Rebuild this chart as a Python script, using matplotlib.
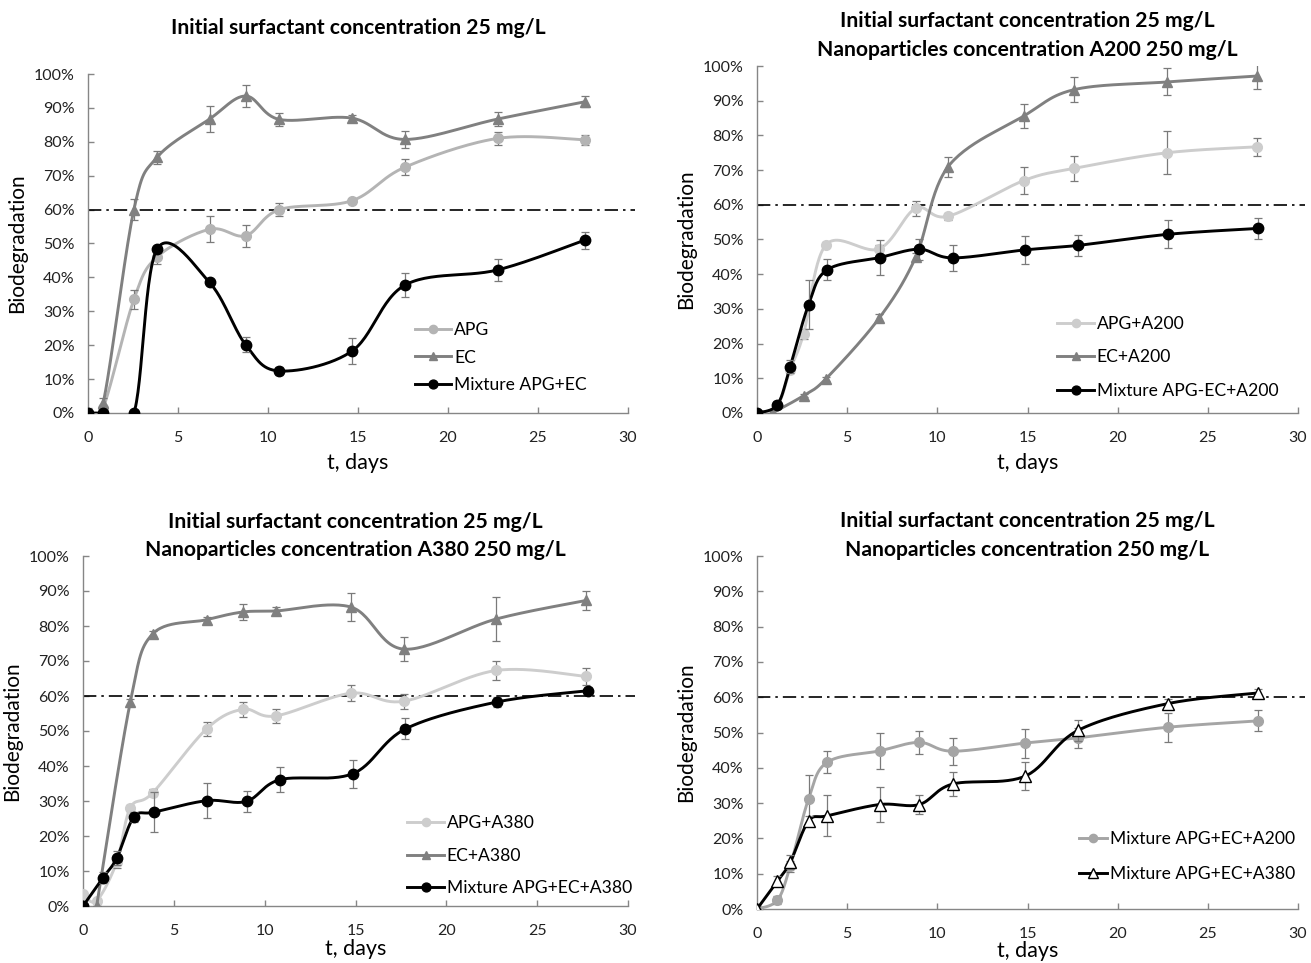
import numpy as np
import matplotlib
matplotlib.use("Agg")
import matplotlib.pyplot as plt
from matplotlib.lines import Line2D

plt.rcParams['font.family'] = ['Lato', 'DejaVu Sans']

# ---------------- data ----------------
TITLE1 = "Initial surfactant concentration 25 mg/L"
TITLE2 = "Initial surfactant concentration 25 mg/L\nNanoparticles concentration A200 250 mg/L"
TITLE3 = "Initial surfactant concentration 25 mg/L\nNanoparticles concentration A380 250 mg/L"
TITLE4 = "Initial surfactant concentration 25 mg/L\nNanoparticles concentration 250 mg/L"

# Panel 1
t1 = [0, 0.84, 2.55, 3.83, 6.75, 8.76, 10.63, 14.65, 17.6, 22.75, 27.6]
apg1 = [0, 1.5, 33.5, 46, 54.2, 52.3, 60, 62.6, 72.5, 81, 80.6]
apg1_err = [1.5, 1.0, 2.9, 2.0, 3.8, 3.2, 2.0, 0.6, 2.4, 1.9, 1.5]
ec1 = [0, 2.9, 60, 75.4, 86.7, 93.5, 86.6, 87, 80.7, 86.7, 91.8]
ec1_err = [0, 1.5, 3.0, 1.9, 3.9, 3.2, 2.0, 1.0, 2.5, 2.0, 1.6]
mix1 = [0, 0, 0, 48.3, 38.5, 20.1, 12.4, 18.2, 37.7, 42.2, 51]
mix1_err = [0, 0, 0, 1.0, 0.5, 2.2, 1.1, 3.8, 3.5, 3.2, 2.5]

# Panel 2 (A200)
tA2 = [0, 1.13, 1.84, 2.58, 3.83, 6.77, 8.8, 10.6, 14.8, 17.6, 22.75, 27.7]
apg2 = [0, 2.2, 12.5, 22.8, 48.5, 47.3, 59, 56.7, 67, 70.5, 75, 76.7]
apg2_err = [0, 0.5, 1.0, 1.5, 0.8, 1.0, 2.2, 1.0, 4.0, 3.6, 6.2, 2.6]
tE2 = [0.85, 2.58, 3.83, 6.77, 8.8, 10.6, 14.8, 17.6, 22.75, 27.7]
ec2 = [0, 5, 9.9, 27.3, 44.9, 71, 85.6, 93.2, 95.4, 97.1]
ec2_err = [0, 0.5, 0.6, 1.1, 1.2, 2.9, 3.4, 3.7, 3.9, 3.7]
tM2 = [0, 1.13, 1.84, 2.86, 3.9, 6.8, 9.0, 10.85, 14.85, 17.8, 22.8, 27.8]
mix2 = [0, 2.4, 13.4, 31.2, 41.3, 44.8, 47.2, 44.7, 47.0, 48.3, 51.5, 53.2]
mix2_err = [0, 1.2, 2.0, 7.0, 3.0, 5.0, 3.0, 3.7, 4.0, 3.0, 4.0, 3.0]

# Panel 3 (A380)
tA3 = [0, 0.75, 1.85, 2.6, 3.83, 6.8, 8.8, 10.6, 14.75, 17.65, 22.75, 27.7]
apg3 = [3.3, 1.5, 12.5, 28, 32.3, 50.6, 56.2, 54.3, 60.8, 58.5, 67.3, 65.6]
apg3_err = [0, 0, 1.5, 0.8, 1.0, 2.0, 2.1, 2.0, 2.3, 2.2, 2.6, 2.5]
tE3 = [0.75, 2.6, 3.83, 6.8, 8.8, 10.6, 14.75, 17.65, 22.75, 27.7]
ec3 = [0, 58.2, 77.7, 81.8, 84, 84.3, 85.4, 73.4, 82, 87.3]
ec3_err = [0, 1.0, 0.8, 0.8, 2.2, 1.2, 4.0, 3.5, 6.2, 2.6]
tM3 = [0, 1.1, 1.85, 2.8, 3.9, 6.8, 9.0, 10.85, 14.85, 17.75, 22.8, 27.8]
mix3 = [0, 8.1, 13.6, 25.4, 26.8, 30.1, 29.9, 36.1, 37.8, 50.6, 58.3, 61.5]
mix3_err = [0, 1.5, 2.0, 1.5, 5.7, 5.0, 3.1, 3.6, 4.0, 3.0, 1.4, 1.0]

# Panel 4 (comparison)
tM4 = [0, 1.13, 1.84, 2.86, 3.9, 6.8, 9.0, 10.85, 14.85, 17.8, 22.8, 27.8]
mixA200 = [0, 2.5, 12.1, 31.2, 41.6, 44.8, 47.2, 44.7, 47.0, 48.5, 51.5, 53.3]
mixA200_err = [0, 1.2, 1.5, 6.7, 3.2, 5.0, 3.2, 3.8, 4.1, 2.8, 4.1, 3.0]
mixA380 = [0, 7.9, 13.2, 24.9, 26.4, 29.6, 29.6, 35.4, 37.6, 50.6, 58.2, 61.2]
mixA380_err = [0, 1.5, 2.0, 1.5, 5.8, 5.0, 2.8, 3.4, 4.0, 3.0, 1.3, 1.2]

THRESHOLD = 60
XTICKS = [0, 5, 10, 15, 20, 25, 30]
YTICKS = list(range(0, 101, 10))

# ---------------- helpers ----------------
def smooth(x, y, n=30):
    P = np.column_stack([x, y]).astype(float)
    P = np.vstack([P[0], P, P[-1]])
    segs = []
    tt = np.linspace(0, 1, n)[:, None]
    for i in range(1, len(P) - 2):
        p0, p1, p2, p3 = P[i - 1], P[i], P[i + 1], P[i + 2]
        c1 = p1 + (p2 - p0) / 6.0
        c2 = p2 - (p3 - p1) / 6.0
        seg = ((1 - tt) ** 3) * p1 + 3 * ((1 - tt) ** 2) * tt * c1 + 3 * (1 - tt) * tt ** 2 * c2 + tt ** 3 * p2
        segs.append(seg if i == 1 else seg[1:])
    s = np.vstack(segs)
    return s[:, 0], s[:, 1]

SPINE = '#868686'
ERRC = '#7a7a7a'

def series(ax, x, y, err, color, marker, ms, lw=2.1, mfc=None, mec=None, z=3):
    sx, sy = smooth(x, y)
    ax.plot(sx, sy, color=color, lw=lw, zorder=z, solid_capstyle='round')
    ax.errorbar(x, y, yerr=err, fmt='none', ecolor=ERRC, elinewidth=0.9, capsize=3.2, capthick=0.9, zorder=z + 0.5)
    ax.plot(x, y, linestyle='none', marker=marker, ms=ms, color=color,
            mfc=mfc if mfc else color, mec=mec if mec else color, mew=1.0, zorder=z + 1)
    return Line2D([], [], color=color, lw=lw, marker=marker, ms=ms * 0.85,
                  mfc=mfc if mfc else color, mec=mec if mec else color)

def style(ax, xpad=6):
    ax.set_xlim(0, 30)
    ax.set_ylim(0, 100)
    ax.set_xticks(XTICKS)
    ax.set_yticks(YTICKS)
    ax.set_yticklabels([f"{v}%" for v in YTICKS])
    for s in ['top', 'right']:
        ax.spines[s].set_visible(False)
    for s in ['left', 'bottom']:
        ax.spines[s].set_color(SPINE)
        ax.spines[s].set_linewidth(1.0)
    ax.tick_params(direction='in', length=4, width=1.0, color=SPINE, labelsize=11.5,
                   labelcolor='#222222')
    ax.tick_params(axis='x', pad=13)
    ax.tick_params(axis='y', pad=9.5)
    ax.set_xlabel("t, days", fontsize=15.5, labelpad=xpad)
    ax.set_ylabel("Biodegradation", fontsize=15, labelpad=5)
    ax.plot([0, 30.4], [THRESHOLD, THRESHOLD], color='black', lw=1.2, ls=(0, (8, 3, 1.5, 3)),
            zorder=2, clip_on=False)

# ---------------- figure ----------------
fig = plt.figure(figsize=(13.11, 9.63), dpi=100)
W, H = 1311, 963
def add_axes(l, r, b, t):
    return fig.add_axes([l / W, 1 - b / H, (r - l) / W, (b - t) / H])

ax1 = add_axes(88, 628, 413, 74)
ax2 = add_axes(757, 1298, 413, 66)
ax3 = add_axes(83, 628, 906, 556)
ax4 = add_axes(757, 1298, 909, 556)

C_APG1 = '#b4b4b4'
C_APG = '#cdcdcd'
C_EC = '#808080'
C_MIX = '#000000'
C_A200 = '#a5a5a5'

TFS = 15.2
LFS = 12.6
LS2 = 1.55
LEG = dict(loc='upper left', frameon=False, fontsize=LFS, borderpad=0,
           handlelength=2.1, handletextpad=0.15, borderaxespad=0)

# Panel 1
style(ax1)
h1 = series(ax1, t1, apg1, apg1_err, C_APG1, 'o', 7, z=3)
h2 = series(ax1, t1, ec1, ec1_err, C_EC, '^', 7, z=4)
h3 = series(ax1, t1, mix1, mix1_err, C_MIX, 'o', 7.5, z=5)
ax1.text(0.5, 1.136, TITLE1, transform=ax1.transAxes, ha='center', va='center',
         fontsize=TFS, fontweight='bold')
ax1.legend([h1, h2, h3], ["APG", "EC", "Mixture APG+EC"],
           bbox_to_anchor=(0.605, 0.268), labelspacing=0.65, **LEG)

# Panel 2
style(ax2)
h1 = series(ax2, tA2, apg2, apg2_err, C_APG, 'o', 7, z=3)
h2 = series(ax2, tE2, ec2, ec2_err, C_EC, '^', 7, z=4)
h3 = series(ax2, tM2, mix2, mix2_err, C_MIX, 'o', 7.5, z=5)
ax2.text(0.5, 1.087, TITLE2, transform=ax2.transAxes, ha='center', va='center',
         fontsize=TFS, fontweight='bold', linespacing=LS2)
ax2.legend([h1, h2, h3], ["APG+A200", "EC+A200", "Mixture APG-EC+A200"],
           bbox_to_anchor=(0.555, 0.28), labelspacing=1.0, **LEG)

# Panel 3
style(ax3, xpad=1)
h1 = series(ax3, tA3, apg3, apg3_err, C_APG, 'o', 7, z=3)
h2 = series(ax3, tE3, ec3, ec3_err, C_EC, '^', 7, z=4)
h3 = series(ax3, tM3, mix3, mix3_err, C_MIX, 'o', 7.5, z=5)
ax3.text(0.5, 1.057, TITLE3, transform=ax3.transAxes, ha='center', va='center',
         fontsize=TFS, fontweight='bold', linespacing=LS2)
ax3.legend([h1, h2, h3], ["APG+A380", "EC+A380", "Mixture APG+EC+A380"],
           bbox_to_anchor=(0.595, 0.26), labelspacing=0.95, **LEG)

# Panel 4
style(ax4, xpad=0)
h1 = series(ax4, tM4, mixA200, mixA200_err, C_A200, 'o', 7, z=3)
h2 = series(ax4, tM4, mixA380, mixA380_err, C_MIX, '^', 9, mfc='white', mec='black', z=4)
ax4.text(0.5, 1.057, TITLE4, transform=ax4.transAxes, ha='center', va='center',
         fontsize=TFS, fontweight='bold', linespacing=LS2)
ax4.legend([h1, h2], ["Mixture APG+EC+A200", "Mixture APG+EC+A380"],
           bbox_to_anchor=(0.595, 0.22), labelspacing=1.05,
           **{**LEG, 'handlelength': 1.6})

fig.savefig("out.png", dpi=100)
